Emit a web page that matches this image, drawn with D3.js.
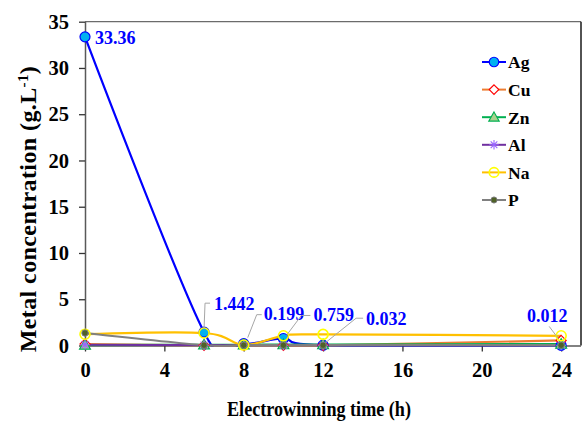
<!DOCTYPE html>
<html>
<head>
<meta charset="utf-8">
<script src="https://cdn.jsdelivr.net/npm/d3@7"></script>
<style>
  html, body { margin: 0; padding: 0; background: #fff; }
  svg { display: block; }
</style>
</head>
<body>
<svg id="chart" width="586" height="424"></svg>
<script>
// ---- data ----
const hours = [0, 6, 8, 10, 12, 24];
const xTickValues = [0, 4, 8, 12, 16, 20, 24];
const yTickValues = [0, 5, 10, 15, 20, 25, 30, 35];
const seriesNames = ["Ag", "Cu", "Zn", "Al", "Na", "P"];
const ag = [33.36, 1.442, 0.199, 0.759, 0.032, 0.012];
const cu = [0.15, 0.02, 0.02, 0.02, 0.02, 0.55];
const zn = [0.05, 0.08, 0.08, 0.10, 0.10, 0.15];
const al = [0.08, 0.03, 0.03, 0.03, 0.03, 0.03];
const na = [1.22, 1.35, 0.05, 1.05, 1.20, 1.05];
const p  = [1.35, 0.03, 0.03, 0.03, 0.03, 0.03];
const agLabels = ["33.36", "1.442", "0.199", "0.759", "0.032", "0.012"];
const xTitle = "Electrowinning time (h)";

const FONT = '"Liberation Serif"';

// ---- styles ----
const styles = {
  Ag: { line: "#0000FF", marker: "circle", fill: "#00B0F0", stroke: "#0000FF" },
  Cu: { line: "#ED7D31", marker: "diamond", fill: "#FFFFFF", stroke: "#FF0000" },
  Zn: { line: "#00B050", marker: "triangle", fill: "#A9D18E", stroke: "#00B050" },
  Al: { line: "#7030A0", marker: "asterisk", fill: "none", stroke: "#9966FF" },
  Na: { line: "#FFC000", marker: "ring", fill: "none", stroke: "#FFFF00" },
  P:  { line: "#808080", marker: "dot", fill: "#4F6228", stroke: "#4F6228" }
};
const valuesByName = { Ag: ag, Cu: cu, Zn: zn, Al: al, Na: na, P: p };

const svg = d3.select("#chart");
const L = 85, R = 581, T = 21.7, B = 345.5;

const x = d3.scaleLinear().domain([0, 25]).range([L, R]);
const y = d3.scaleLinear().domain([0, 35]).range([B, T]);

svg.append("defs").append("clipPath").attr("id", "plotclip")
  .append("rect").attr("x", L).attr("y", T).attr("width", R - L).attr("height", B - T + 1);

// frame top & right
svg.append("line").attr("x1", L).attr("x2", R).attr("y1", T).attr("y2", T)
  .attr("stroke", "#6b6b6b").attr("stroke-width", 1.3);
svg.append("line").attr("x1", R).attr("x2", R).attr("y1", T).attr("y2", B)
  .attr("stroke", "#1a1a1a").attr("stroke-width", 1.5);

// axes
const axisColor = "#595959";
const yAxis = svg.append("g").attr("transform", `translate(${L},0)`)
  .call(d3.axisLeft(y).tickValues(yTickValues).tickSize(6).tickPadding(10).tickFormat(d3.format("d")));
const xAxis = svg.append("g").attr("transform", `translate(0,${B})`)
  .call(d3.axisBottom(x).tickValues(xTickValues).tickSize(6).tickPadding(11).tickFormat(d3.format("d")));
[xAxis, yAxis].forEach(g => {
  g.attr("font-family", null).attr("font-size", null);
  g.select(".domain").attr("stroke", axisColor).attr("stroke-width", 1.5);
  g.selectAll(".tick line").attr("stroke", "#333").attr("stroke-width", 1.3);
  g.selectAll(".tick text").attr("fill", "#000").style("font-size", "20.5px")
    .style("font-family", FONT).style("font-weight", "bold");
});
xAxis.select(".domain").attr("d", `M${L},0.5H${R}`);
yAxis.select(".domain").attr("d", `M0.5,${B}V${T}`);

// series
const lineGen = d3.line().x(d => x(d[0])).y(d => y(d[1])).curve(d3.curveCatmullRom.alpha(0));
const plot = svg.append("g");
const linesG = plot.append("g").attr("clip-path", "url(#plotclip)");

function drawMarker(g, type, st, cx, cy, scale) {
  const s = scale || 1;
  if (type === "circle") {
    g.append("circle").attr("cx", cx).attr("cy", cy).attr("r", 5 * s)
      .attr("fill", st.fill).attr("stroke", st.stroke).attr("stroke-width", 1.2);
  } else if (type === "ring") {
    g.append("circle").attr("cx", cx).attr("cy", cy).attr("r", 5 * s)
      .attr("fill", "none").attr("stroke", st.stroke).attr("stroke-width", 1.6);
  } else if (type === "diamond") {
    const r = 5 * s;
    g.append("path").attr("d", `M${cx},${cy - r}L${cx + r},${cy}L${cx},${cy + r}L${cx - r},${cy}Z`)
      .attr("fill", st.fill).attr("stroke", st.stroke).attr("stroke-width", 1.2);
  } else if (type === "triangle") {
    const r = 5.5 * s;
    g.append("path").attr("d", `M${cx},${cy - r}L${cx + r},${cy + r * 0.75}L${cx - r},${cy + r * 0.75}Z`)
      .attr("fill", st.fill).attr("stroke", st.stroke).attr("stroke-width", 1.1);
  } else if (type === "asterisk") {
    const r = 5 * s;
    let d = `M${cx - r},${cy}H${cx + r}`;
    d += `M${cx - r * 0.7},${cy - r * 0.7}L${cx + r * 0.7},${cy + r * 0.7}`;
    d += `M${cx - r * 0.7},${cy + r * 0.7}L${cx + r * 0.7},${cy - r * 0.7}`;
    d += `M${cx},${cy - r}V${cy + r}`;
    g.append("path").attr("d", d).attr("fill", "none").attr("stroke", st.stroke).attr("stroke-width", 1.1);
  } else if (type === "dot") {
    g.append("circle").attr("cx", cx).attr("cy", cy).attr("r", 3.2 * s)
      .attr("fill", st.fill).attr("stroke", "#7a7a7a").attr("stroke-width", 1);
  }
}

seriesNames.forEach(name => {
  const st = styles[name];
  const pts = hours.map((h, i) => [h, valuesByName[name][i]]);
  const g = linesG.append("g");
  g.append("path").attr("d", lineGen(pts)).attr("fill", "none")
    .attr("stroke", st.line).attr("stroke-width", 2.2);
  const mg = plot.append("g");
  pts.forEach(d => drawMarker(mg, st.marker, st, x(d[0]), y(d[1])));
});

// Ag data labels with leader lines (offsets are layout, not data)
const labelLayout = [
  { dx: 10, dy: 1, anchor: "start", leader: null },
  { dx: 10, dy: -28, anchor: "start", leader: [[0, -3], [1, -29], [6, -29]] },
  { dx: 20, dy: -30, anchor: "start", leader: [[4, -6], [13, -29], [18, -29]] },
  { dx: 30, dy: -24, anchor: "start", leader: [[3, -3], [18, -23], [27, -23]] },
  { dx: 43, dy: -27, anchor: "start", leader: [[3, -3], [33, -27], [40, -27]] },
  { dx: -14, dy: -30, anchor: "middle", leader: [[-3, -7], [-12, -19]] }
];
const labG = svg.append("g");
hours.forEach((h, i) => {
  const px = x(h), py = y(ag[i]);
  const lay = labelLayout[i];
  if (lay.leader) {
    labG.append("path")
      .attr("d", "M" + lay.leader.map(q => `${px + q[0]},${py + q[1]}`).join("L"))
      .attr("fill", "none").attr("stroke", "#A6A6A6").attr("stroke-width", 1);
  }
  labG.append("text").attr("x", px + lay.dx).attr("y", py + lay.dy)
    .attr("dy", "0.35em").attr("text-anchor", lay.anchor)
    .attr("fill", "#0000FF").style("font-family", FONT).style("font-weight", "bold")
    .style("font-size", "18px").text(agLabels[i]);
});

// legend
const leg = svg.append("g");
seriesNames.forEach((name, i) => {
  const st = styles[name];
  const cy = 62 + i * 27.6;
  leg.append("line").attr("x1", 482).attr("x2", 506).attr("y1", cy).attr("y2", cy)
    .attr("stroke", st.line).attr("stroke-width", 2);
  drawMarker(leg, st.marker, st, 494, cy, 0.95);
  leg.append("text").attr("x", 508).attr("y", cy).attr("dy", "0.36em")
    .style("font-family", FONT).style("font-weight", "bold")
    .style("font-size", "17.5px").attr("fill", "#000").text(name);
});

// axis titles
svg.append("text").attr("x", 319).attr("y", 416).attr("text-anchor", "middle")
  .style("font-family", FONT).style("font-weight", "bold").style("font-size", "22px").attr("fill", "#000")
  .attr("textLength", 184).attr("lengthAdjust", "spacingAndGlyphs").text(xTitle);

const yt = svg.append("text").attr("transform", "translate(36,209) rotate(-90)")
  .attr("text-anchor", "middle").style("font-family", FONT).style("font-weight", "bold")
  .style("font-size", "24px").style("letter-spacing", "0.4px").attr("fill", "#000");
yt.append("tspan").text("Metal concentration (g.L");
yt.append("tspan").attr("dy", -8).style("font-size", "15px").text("-1");
yt.append("tspan").attr("dy", 8).text(")");
</script>
</body>
</html>
